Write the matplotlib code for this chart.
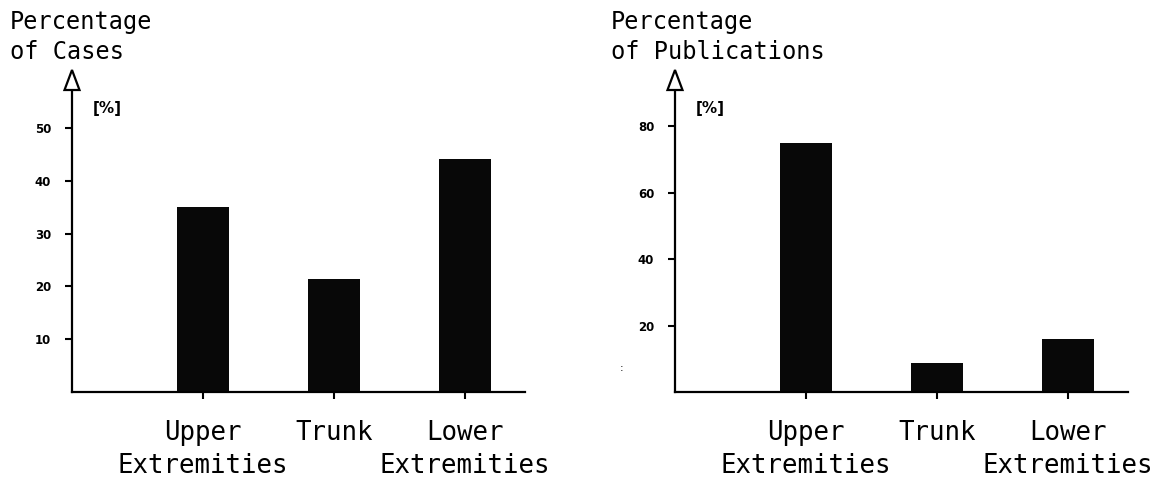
import matplotlib
matplotlib.use("Agg")
import matplotlib.pyplot as plt
from matplotlib.patches import Polygon

# data
categories = ["Upper\nExtremities", "Trunk", "Lower\nExtremities"]
cases_pct = [35.1, 21.4, 44.2]
publ_pct = [75.0, 8.8, 15.9]
cases_ticks = [10, 20, 30, 40, 50]
publ_ticks = [20, 40, 60, 80]

MONO = "DejaVu Sans Mono"
W, H = 1161, 484


def draw_panel(fig, rect, values, ticks, ymax, title, title_x):
    ax = fig.add_axes(rect)
    x = list(range(1, len(values) + 1))
    ax.bar(x, values, width=0.4, color="#080808", zorder=2)
    ax.set_xlim(0, 3.46)
    ax.set_ylim(0, ymax)

    for s in ["top", "right"]:
        ax.spines[s].set_visible(False)
    for s in ["left", "bottom"]:
        ax.spines[s].set_linewidth(1.6)
        ax.spines[s].set_color("black")

    ax.set_yticks(ticks)
    ax.set_yticklabels([str(t) for t in ticks], fontsize=8.5, fontweight="bold",
                       family="DejaVu Sans")
    ax.tick_params(axis="y", length=5, width=1.5, pad=10, direction="out")

    ax.set_xticks(x)
    ax.set_xticklabels(categories, family=MONO, fontsize=18.5,
                       linespacing=1.35)
    ax.tick_params(axis="x", length=5, width=1.5, pad=15, direction="out")

    # open arrow head on top of the y axis (figure pixel coords)
    ax_px = rect[0] * W
    tip = 70
    tri = [(ax_px - 7.5, tip + 20), (ax_px + 7.5, tip + 20), (ax_px, tip)]
    tri = [(px / W, 1 - py / H) for px, py in tri]
    fig.add_artist(Polygon(tri, closed=True, facecolor="white",
                           edgecolor="black", linewidth=1.6,
                           transform=fig.transFigure, zorder=5))

    ax.text(0.046, 0.91, "[%]", transform=ax.transAxes, fontsize=11,
            fontweight="bold", family="DejaVu Sans", ha="left", va="center")

    fig.text(title_x, 1 - 10 / H, title, family=MONO, fontsize=17,
             ha="left", va="top", linespacing=1.3)
    return ax


def main():
    fig = plt.figure(figsize=(11.61, 4.84), dpi=100)
    bottom = (H - 392) / H
    height = (392 - 80) / H
    width = (525 - 72) / W
    # axes top sits inside the arrow head; limits scaled to that top
    draw_panel(fig, [72 / W, bottom, width, height], cases_pct,
               cases_ticks, 61 * 312 / 322, "Percentage\nof Cases", 10 / W)
    draw_panel(fig, [675 / W, bottom, width, height], publ_pct,
               publ_ticks, 97 * 312 / 322, "Percentage\nof Publications",
               611 / W)
    # stray mark in the scan
    fig.text(622 / W, 1 - 368 / H, ":", fontsize=8, ha="center",
             va="center")

    fig.savefig("out.png", dpi=100)


if __name__ == '__main__':
    main()
